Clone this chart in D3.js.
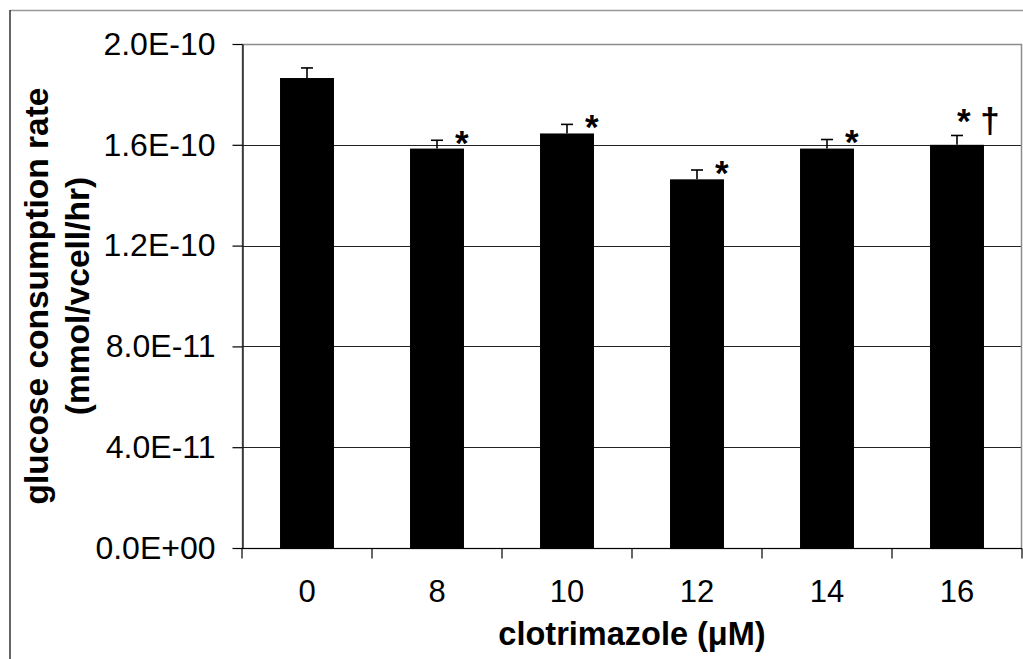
<!DOCTYPE html>
<html>
<head>
<meta charset="utf-8">
<script src="https://cdn.jsdelivr.net/npm/d3@7"></script>
<style>
  html, body { margin: 0; padding: 0; background: #fff; }
  svg { display: block; font-family: Arial, "Liberation Sans", sans-serif; }
</style>
</head>
<body>
<svg id="chart" width="1023" height="659"></svg>
<script>
// Glucose consumption rate per clotrimazole dose
const doses = ["0", "8", "10", "12", "14", "16"];
const rates = [1.865e-10, 1.585e-10, 1.645e-10, 1.463e-10, 1.585e-10, 1.600e-10];
const errors = [4.0e-12, 3.3e-12, 3.6e-12, 3.7e-12, 3.6e-12, 3.7e-12];
const marks = ["", "*", "*", "*", "*", "* \u2020"];
const yTicks = [0, 4e-11, 8e-11, 1.2e-10, 1.6e-10, 2.0e-10];
const yTickLabels = ["0.0E+00", "4.0E-11", "8.0E-11", "1.2E-10", "1.6E-10", "2.0E-10"];

const svg = d3.select("#chart");
const plot = { left: 242, right: 1022, top: 44, bottom: 548 };

// outer chart frame
svg.append("line").attr("x1", 10).attr("x2", 1023).attr("y1", 10.5).attr("y2", 10.5)
  .attr("stroke", "#999").attr("stroke-width", 1.5);
svg.append("line").attr("x1", 10).attr("x2", 10).attr("y1", 10).attr("y2", 659)
  .attr("stroke", "#333").attr("stroke-width", 1.5);

const x = d3.scaleBand().domain(doses).range([plot.left, plot.right]).padding(0);
const y = d3.scaleLinear().domain([0, 2e-10]).range([plot.bottom, plot.top]);
const barW = x.bandwidth() * 0.415;

// horizontal gridlines
svg.append("g")
  .selectAll("line")
  .data(yTicks.slice(1, -1))
  .join("line")
  .attr("x1", plot.left).attr("x2", plot.right)
  .attr("y1", d => Math.round(y(d)) + 0.5).attr("y2", d => Math.round(y(d)) + 0.5)
  .attr("stroke", "#222").attr("stroke-width", 1);

// plot area border
svg.append("rect")
  .attr("x", plot.left + 0.5).attr("y", plot.top + 0.5)
  .attr("width", plot.right - plot.left - 1).attr("height", plot.bottom - plot.top)
  .attr("fill", "none").attr("stroke", "#8c8c8c").attr("stroke-width", 1.5);

// bars
svg.append("g")
  .selectAll("rect")
  .data(doses)
  .join("rect")
  .attr("x", (d) => x(d) + (x.bandwidth() - barW) / 2)
  .attr("y", (d, i) => y(rates[i]))
  .attr("width", barW)
  .attr("height", (d, i) => y(0) - y(rates[i]))
  .attr("fill", "#000");

// upper error bars
const eb = svg.append("g").attr("stroke", "#000").attr("stroke-width", 1.6);
doses.forEach((d, i) => {
  const cx = x(d) + x.bandwidth() / 2;
  const yTop = y(rates[i] + errors[i]);
  eb.append("line").attr("x1", cx).attr("x2", cx).attr("y1", y(rates[i])).attr("y2", yTop);
  eb.append("line").attr("x1", cx - 6).attr("x2", cx + 6).attr("y1", yTop).attr("y2", yTop);
});

// significance markers
svg.append("g")
  .selectAll("text")
  .data(doses)
  .join("text")
  .attr("x", (d, i) => x(d) + x.bandwidth() / 2 + (marks[i].length > 1 ? 0 : 18))
  .attr("y", (d, i) => y(rates[i] + errors[i]) + (marks[i].length > 1 ? -2 : 14.5))
  .attr("font-size", 35).attr("font-weight", "bold")
  .attr("xml:space", "preserve")
  .text((d, i) => marks[i]);

// y axis
const yAxis = d3.axisLeft(y).tickValues(yTicks).tickSize(10).tickSizeOuter(0)
  .tickFormat((d, i) => yTickLabels[i]).tickPadding(17);
const gy = svg.append("g").attr("transform", `translate(${plot.left + 0.5},0)`).call(yAxis);
gy.select(".domain").attr("stroke", "#000").attr("stroke-width", 1.2);
gy.selectAll(".tick line").attr("stroke", "#000").attr("stroke-width", 1.2);
gy.selectAll(".tick text").attr("font-size", 32).attr("fill", "#000")
  .attr("font-family", "Arial, 'Liberation Sans', sans-serif");

// x axis with ticks on category boundaries
const gx = svg.append("g").attr("transform", `translate(0,${plot.bottom + 0.5})`);
gx.append("line").attr("x1", plot.left).attr("x2", plot.right)
  .attr("stroke", "#000").attr("stroke-width", 1.2);
const bounds = doses.map(d => x(d)).concat([plot.right]);
gx.selectAll("line.tk").data(bounds).join("line").attr("class", "tk")
  .attr("x1", d => d).attr("x2", d => d).attr("y1", 0).attr("y2", 10)
  .attr("stroke", "#000").attr("stroke-width", 1.2);
gx.selectAll("text").data(doses).join("text")
  .attr("x", d => x(d) + x.bandwidth() / 2)
  .attr("y", 53)
  .attr("text-anchor", "middle")
  .attr("font-size", 31)
  .text(d => d);

// axis titles
svg.append("text")
  .attr("x", (plot.left + plot.right) / 2).attr("y", 645)
  .attr("text-anchor", "middle").attr("font-size", 32.5).attr("font-weight", "bold")
  .text("clotrimazole (\u03bcM)");

const yTitle = svg.append("g")
  .attr("transform", `translate(0,${(plot.top + plot.bottom) / 2}) rotate(-90)`)
  .attr("text-anchor", "middle").attr("font-size", 33.5).attr("font-weight", "bold");
yTitle.append("text").attr("x", 0).attr("y", 48).text("glucose consumption rate");
yTitle.append("text").attr("x", 0).attr("y", 89).text("(mmol/vcell/hr)");
</script>
</body>
</html>
